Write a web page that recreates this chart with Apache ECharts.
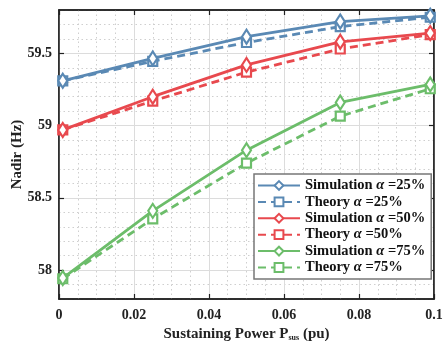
<!DOCTYPE html>
<html>
<head>
<meta charset="utf-8">
<script src="https://cdn.jsdelivr.net/npm/echarts@6/dist/echarts.min.js"></script>
<style>
  html, body { margin: 0; padding: 0; background: #fff; }
  #chart { width: 443px; height: 341px; }
</style>
</head>
<body>
<div id="chart"></div>
<script>
// sustaining power (pu)
const xValues = [0.001, 0.025, 0.05, 0.075, 0.099];

// nadir frequency (Hz)
const simAlpha25 = [59.31, 59.465, 59.615, 59.72, 59.76];
const theoryAlpha25 = [59.31, 59.445, 59.575, 59.685, 59.75];
const simAlpha50 = [58.97, 59.2, 59.42, 59.58, 59.64];
const theoryAlpha50 = [58.97, 59.17, 59.37, 59.53, 59.63];
const simAlpha75 = [57.945, 58.41, 58.83, 59.16, 59.285];
const theoryAlpha75 = [57.94, 58.355, 58.74, 59.065, 59.255];

const yTicks = [58, 58.5, 59, 59.5];
const xTicks = [0, 0.02, 0.04, 0.06, 0.08, 0.1];

const colors = { a25: "#5a89b4", a50: "#e8494e", a75: "#6cbd6a" };
const font = "'Liberation Serif', 'DejaVu Serif', serif";

const pair = (ys) => xValues.map((x, i) => [x, ys[i]]);

const makeSeries = (name, ys, color, theory) => ({
  name,
  type: "line",
  data: pair(ys),
  symbol: theory ? "rect" : "diamond",
  symbolSize: theory ? [9, 9] : [9, 14],
  lineStyle: { color, width: 2.8, type: theory ? [8, 5] : "solid" },
  itemStyle: { color: "#fff", borderColor: color, borderWidth: 2.2 },
  z: theory ? 3 : 4,
});

const legendName = (n) => {
  const [kind, pct] = n.split("|");
  return `{t|${kind} }{g|α}{t| =${pct}}`;
};

const names = [
  "Simulation|25%", "Theory|25%",
  "Simulation|50%", "Theory|50%",
  "Simulation|75%", "Theory|75%",
];

const chart = echarts.init(document.getElementById("chart"));
chart.setOption({
  animation: false,
  backgroundColor: "#fff",
  grid: {
    left: 59, right: 9, top: 10, bottom: 42,
    outerBoundsMode: "none",
    show: true, borderColor: "#222", borderWidth: 1.5, backgroundColor: "transparent",
  },
  legend: {
    orient: "vertical",
    left: 254,
    top: 174,
    padding: [4, 6, 4, 3],
    itemWidth: 42,
    itemHeight: 11,
    itemGap: 1.4,
    backgroundColor: "#fff",
    borderColor: "#777",
    borderWidth: 1.5,
    borderRadius: 0,
    data: names,
    formatter: legendName,
    textStyle: {
      fontFamily: font,
      fontSize: 14.5,
      fontWeight: "bold",
      color: "#111",
      lineHeight: 15,
      rich: {
        t: { fontFamily: font, fontSize: 14.5, fontWeight: "bold", color: "#111", lineHeight: 15 },
        g: { fontFamily: font, fontSize: 14.5, fontStyle: "italic", color: "#111", lineHeight: 15 },
      },
    },
  },
  xAxis: [
    {
      type: "value",
      min: 0,
      max: 0.1,
      interval: 0.02,
      name: "{n|Sustaining Power P}{s|sus}{n| (pu)}",
      nameLocation: "middle",
      nameGap: 27,
      nameMoveOverlap: false,
      nameTextStyle: {
        rich: {
          n: { fontFamily: font, fontSize: 15, fontWeight: "bold", color: "#222" },
          s: { fontFamily: font, fontSize: 8, fontWeight: "bold", color: "#222", padding: [8, 0, 0, 0] },
        },
      },
      axisLine: { show: true, lineStyle: { color: "#222", width: 1.5 } },
      axisTick: { show: true, inside: true, length: 5, lineStyle: { color: "#222", width: 1.2 } },
      axisLabel: {
        margin: 9,
        fontFamily: font, fontSize: 14, fontWeight: "bold", color: "#222",
        customValues: xTicks,
        formatter: (v) => String(+v.toFixed(2)),
      },
      splitLine: { show: true, lineStyle: { color: "#dcdcdc", width: 1 } },
      minorTick: { show: false, splitNumber: 4 },
      minorSplitLine: { show: true, lineStyle: { color: "#cfcfcf", type: [1.5, 3], width: 1 } },
    },
    {
      type: "value",
      position: "top",
      min: 0,
      max: 0.1,
      interval: 0.02,
      axisLine: { show: true, lineStyle: { color: "#222", width: 1.5 } },
      axisTick: { show: true, inside: true, length: 5, lineStyle: { color: "#222", width: 1.2 } },
      axisLabel: { show: false },
      splitLine: { show: false },
    },
  ],
  yAxis: [
    {
      type: "value",
      min: 57.8,
      max: 59.8,
      interval: 0.1,
      name: "Nadir (Hz)",
      nameLocation: "middle",
      nameGap: 34,
      nameMoveOverlap: false,
      nameTextStyle: { fontFamily: font, fontSize: 15, fontWeight: "bold", color: "#222" },
      axisLine: { show: true, lineStyle: { color: "#222", width: 1.5 } },
      axisTick: { show: true, inside: true, length: 5, customValues: yTicks, lineStyle: { color: "#222", width: 1.2 } },
      axisLabel: {
        margin: 7,
        fontFamily: font, fontSize: 14, fontWeight: "bold", color: "#222",
        customValues: yTicks,
        formatter: (v) => String(+v.toFixed(1)),
      },
      splitLine: { show: true, lineStyle: { color: "#dcdcdc", width: 1 } },
    },
    {
      type: "value",
      position: "left",
      min: 57.8,
      max: 59.8,
      interval: 0.1,
      axisLine: { show: false },
      axisTick: { show: false },
      axisLabel: { show: false },
      splitLine: { show: true, lineStyle: { color: "#cfcfcf", type: [1.5, 3], width: 1 } },
      z: -1,
    },
    {
      type: "value",
      position: "right",
      min: 57.8,
      max: 59.8,
      interval: 0.1,
      axisLine: { show: true, lineStyle: { color: "#222", width: 1.5 } },
      axisTick: { show: true, inside: true, length: 5, customValues: yTicks, lineStyle: { color: "#222", width: 1.2 } },
      axisLabel: { show: false },
      splitLine: { show: false },
    },
  ],
  series: [
    makeSeries(names[0], simAlpha25, colors.a25, false),
    makeSeries(names[1], theoryAlpha25, colors.a25, true),
    makeSeries(names[2], simAlpha50, colors.a50, false),
    makeSeries(names[3], theoryAlpha50, colors.a50, true),
    makeSeries(names[4], simAlpha75, colors.a75, false),
    makeSeries(names[5], theoryAlpha75, colors.a75, true),
  ],
});
</script>
</body>
</html>
